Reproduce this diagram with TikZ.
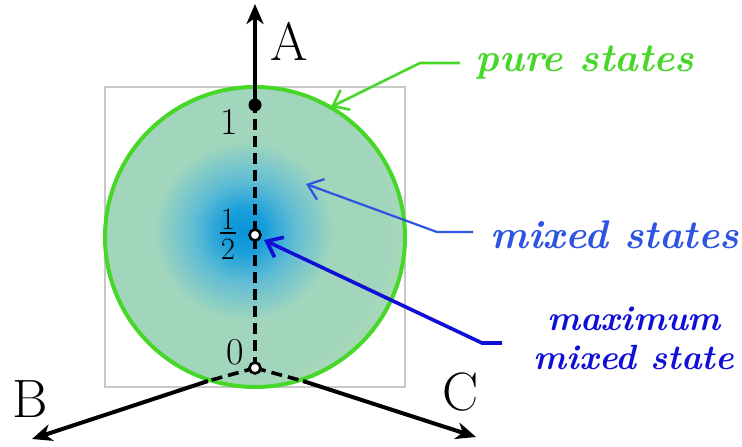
\documentclass[tikz,border=0pt]{standalone}
\usetikzlibrary{arrows.meta}
\definecolor{puregreen}{RGB}{70,215,40}
\definecolor{fillgreen}{RGB}{165,215,185}
\definecolor{mixblue}{RGB}{45,85,225}
\definecolor{maxblue}{RGB}{15,15,215}
\definecolor{boxgray}{RGB}{200,200,200}
\pgfdeclareradialshading{ballshade}{\pgfpoint{0bp}{0bp}}{rgb(0bp)=(0.03,0.58,0.85);rgb(3.5bp)=(0.1,0.62,0.86);rgb(8.5bp)=(0.38,0.74,0.83);rgb(15bp)=(0.63,0.84,0.74);rgb(50bp)=(0.65,0.84,0.73)}
\tikzset{
  axis/.style={line width=4pt,-{Stealth[length=20pt,width=17pt,inset=6pt]}},
  dashaxis/.style={line width=3.6pt,dash pattern=on 11pt off 6pt},
  lbl/.style={font=\fontsize{54}{58}\selectfont,inner sep=0pt},
  num/.style={font=\fontsize{38}{42}\selectfont,inner sep=0pt},
  ann/.style={font=\fontsize{40}{44}\selectfont\bfseries\itshape,inner sep=0pt,align=center},
  annmax/.style={font=\fontsize{35}{39}\selectfont\bfseries\itshape,inner sep=0pt,align=center},
  pointer/.style={line width=2.6pt,-{Straight Barb[length=14pt,width=22pt]}},
}
\begin{document}
\begin{tikzpicture}[x=1pt,y=-1pt]
\useasboundingbox (0,0) rectangle (742,447);
% box and ball
\draw[boxgray,line width=1.4pt] (105,87) rectangle (405,387);
\fill[fillgreen] (255,237) circle[radius=150];
\begin{scope}
\clip (255,237) circle[radius=150];
\shade[shading=ballshade] (244,231) circle[radius=150];
\end{scope}
\draw[puregreen,line width=4pt] (255,237) circle[radius=150];
% points
\coordinate (O) at (255,368);
\coordinate (P1) at (255,105);
\coordinate (Ph) at (255,235);
\coordinate (Atip) at (255,4);
\coordinate (Btip) at (32,439);
\coordinate (Ctip) at (476,437);
\coordinate (Bx) at (208,381);
\coordinate (Cx) at (303,381);
% axes
\draw[dashaxis] (O) -- (P1);
\draw[axis] (P1) -- (Atip);
\draw[dashaxis] (O) -- (Bx);
\draw[axis] (Bx) -- (Btip);
\draw[dashaxis] (O) -- (Cx);
\draw[axis] (Cx) -- (Ctip);
\fill[black] (P1) circle[radius=6.5];
\draw[black,fill=white,line width=2.6pt] (Ph) circle[radius=5.5];
\draw[black,fill=white,line width=2.6pt] (O) circle[radius=5.5];
% labels
\node[lbl] (A) at (289,41) {A};
\node[lbl] (B) at (30,399) {B};
\node[lbl] (C) at (461,392) {C};
\node[num] (n1) at (229,122) {1};
\node[num,font=\fontsize{31}{31}\selectfont] (nh) at (228,234) {\vbox{\hbox to 16pt{\hss1\hss}\kern3pt\hrule height 1.3pt\kern5pt\hbox to 16pt{\hss2\hss}}};
\node[num] (n0) at (235,352) {0};
% annotations
\node[ann,text=puregreen] (pure) at (585,63) {pure states};
\coordinate (pstart) at (460,63);
\coordinate (pbend) at (420,63);
\coordinate (ptip) at (331,107);
\draw[pointer,puregreen] (pstart) -- (pbend) -- (ptip);
\node[ann,text=mixblue] (mixed) at (615,235) {mixed states};
\coordinate (mstart) at (473,232);
\coordinate (mbend) at (437,232);
\coordinate (mtip) at (306,184);
\draw[pointer,mixblue,line width=2.2pt] (mstart) -- (mbend) -- (mtip);
\node[annmax,text=maxblue] (maxm) at (634,338) {maximum\\mixed state};
\coordinate (xstart) at (502,343);
\coordinate (xbend) at (482,343);
\coordinate (xtip) at (264,240);
\draw[pointer,maxblue,line width=3.6pt] (xstart) -- (xbend) -- (xtip);
\end{tikzpicture}
\end{document}
